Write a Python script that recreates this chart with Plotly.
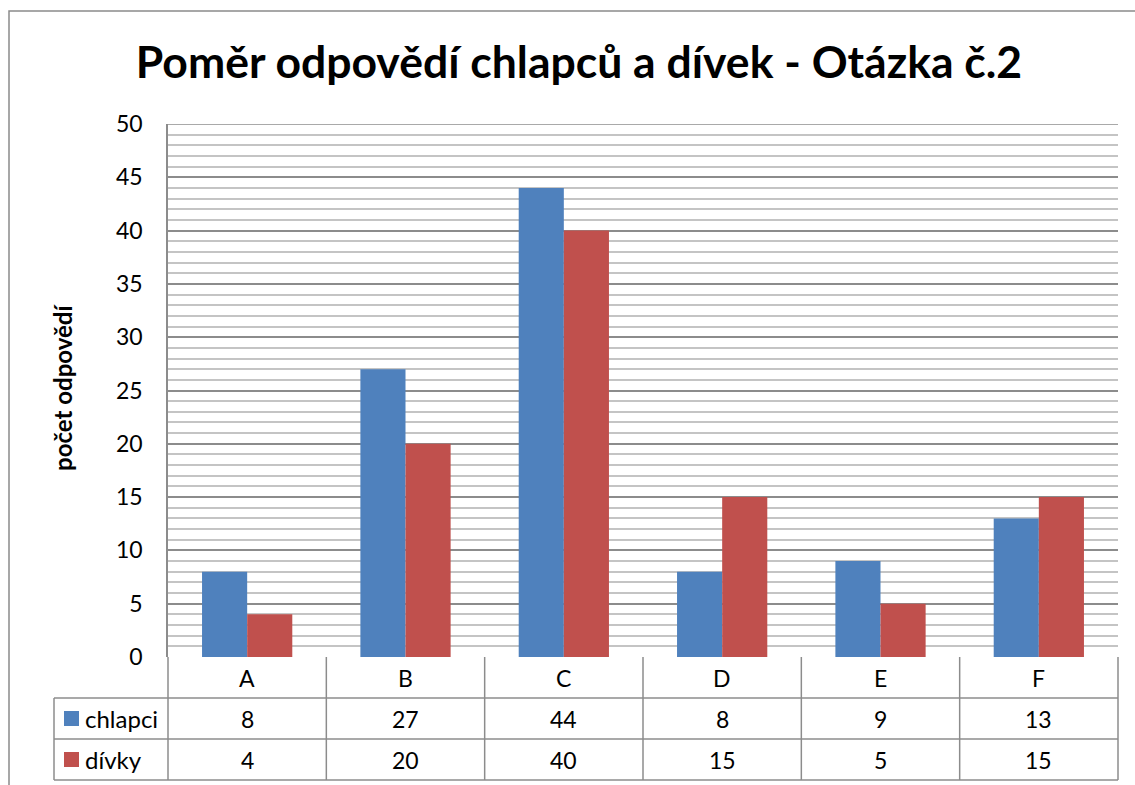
import plotly.graph_objects as go

categories = ["A", "B", "C", "D", "E", "F"]
chlapci = [8, 27, 44, 8, 9, 13]
divky = [4, 20, 40, 15, 5, 15]
series_names = ["chlapci", "dívky"]
title_text = "Poměr odpovědí chlapců a dívek - Otázka č.2"
y_title = "počet odpovědí"

W, H = 1135, 785
BLUE = "#4F81BD"
RED = "#C0504D"
FONT = "Lato"
LINE = "#8c8c8c"

def px(x):
    return x / W

def py(y):
    return 1 - y / H

plot_l, plot_r, plot_t, plot_b = 168, 1118, 124, 657
row_h = 41

fig = go.Figure()
fig.add_trace(go.Bar(x=categories, y=chlapci, name=series_names[0], marker=dict(color=BLUE, line=dict(width=0))))
fig.add_trace(go.Bar(x=categories, y=divky, name=series_names[1], marker=dict(color=RED, line=dict(width=0))))

shapes = []
annotations = []

# outer chart border (extends past the visible page)
shapes.append(dict(type="rect", xref="paper", yref="paper", x0=px(9), x1=px(1200), y0=py(11), y1=py(900),
                   line=dict(color="#8a8a8a", width=1.5), fillcolor="rgba(0,0,0,0)", layer="below"))

# data table grid
ncat = len(categories)
col_w = (plot_r - plot_l) / ncat
for i in range(ncat + 1):
    x = plot_l + i * col_w
    shapes.append(dict(type="line", xref="paper", yref="paper", x0=px(x), x1=px(x),
                       y0=py(plot_b), y1=py(plot_b + 3 * row_h), line=dict(color=LINE, width=1.5)))
shapes.append(dict(type="line", xref="paper", yref="paper", x0=px(54), x1=px(54),
                   y0=py(plot_b + row_h), y1=py(plot_b + 3 * row_h), line=dict(color=LINE, width=1.5)))
for r in range(1, 4):
    y = plot_b + r * row_h
    shapes.append(dict(type="line", xref="paper", yref="paper", x0=px(54), x1=px(plot_r),
                       y0=py(y), y1=py(y), line=dict(color=LINE, width=1.5)))

# category header text
for c in categories:
    annotations.append(dict(x=c, xref="x", y=py(plot_b + row_h / 2), yref="paper", text=c,
                            xanchor="center", yanchor="middle",
                            showarrow=False, font=dict(family=FONT, size=23, color="black")))
# values
for r, (vals, name, col) in enumerate([(chlapci, series_names[0], BLUE), (divky, series_names[1], RED)]):
    yc = plot_b + row_h * (r + 1) + row_h / 2
    for c, v in zip(categories, vals):
        annotations.append(dict(x=c, xref="x", y=py(yc), yref="paper", text=str(v),
                                xanchor="center", yanchor="middle",
                                showarrow=False, font=dict(family=FONT, size=23, color="black")))
    shapes.append(dict(type="rect", xref="paper", yref="paper", x0=px(64), x1=px(79),
                       y0=py(yc - 7.5), y1=py(yc + 7.5), fillcolor=col, line=dict(width=0)))
    annotations.append(dict(x=px(83), xref="paper", y=py(yc), yref="paper", text=name,
                            xanchor="left", yanchor="middle",
                            showarrow=False, font=dict(family=FONT, size=24, color="black")))

# y axis title
annotations.append(dict(x=px(62), xref="paper", y=py(388), yref="paper", text="<b>" + y_title + "</b>",
                        xanchor="center", yanchor="middle",
                        textangle=-90, showarrow=False, font=dict(family=FONT, size=24, color="black")))

fig.update_layout(
    template="none",
    width=W, height=H, autosize=False,
    margin=dict(l=0, r=0, t=0, b=0, pad=0),
    paper_bgcolor="white", plot_bgcolor="white",
    showlegend=False,
    barmode="group", bargap=0.43, bargroupgap=0,
    title=dict(text="<b>" + title_text + "</b>", x=579 / W, y=1 - 62 / H, xanchor="center", yanchor="middle",
               xref="paper", yref="container", automargin=False,
               font=dict(family=FONT, size=44.5, color="black")),
    xaxis=dict(domain=[px(plot_l), px(plot_r)], showticklabels=False, showgrid=False, zeroline=False,
               showline=False, ticks="", automargin=False),
    yaxis=dict(domain=[py(plot_b), py(plot_t)], range=[0, 50], dtick=5, tick0=0, automargin=False,
               showgrid=True, gridcolor="#8c8c8c", gridwidth=1.5,
               minor=dict(dtick=1, showgrid=True, gridcolor="#c4c4c4", gridwidth=1.5),
               zeroline=False, showline=True, linecolor=LINE, linewidth=1.5, mirror=False,
               ticks="", tickfont=dict(family=FONT, size=23, color="black"), ticklabelstandoff=19),
    shapes=shapes, annotations=annotations,
)
fig.add_shape(type="line", xref="paper", yref="y", x0=px(plot_l), x1=px(plot_r), y0=50, y1=50,
              line=dict(color="#8c8c8c", width=1.5), layer="below")

post = ("document.body.style.margin='0px';"
        "document.documentElement.style.overflow='hidden';document.body.style.overflow='hidden';"
        "var gd=document.getElementById('{plot_id}');"
        "gd.style.position='fixed';gd.style.top='0px';gd.style.left='0px';")
fig.write_html("out.html", config={"displayModeBar": False}, post_script=post)
